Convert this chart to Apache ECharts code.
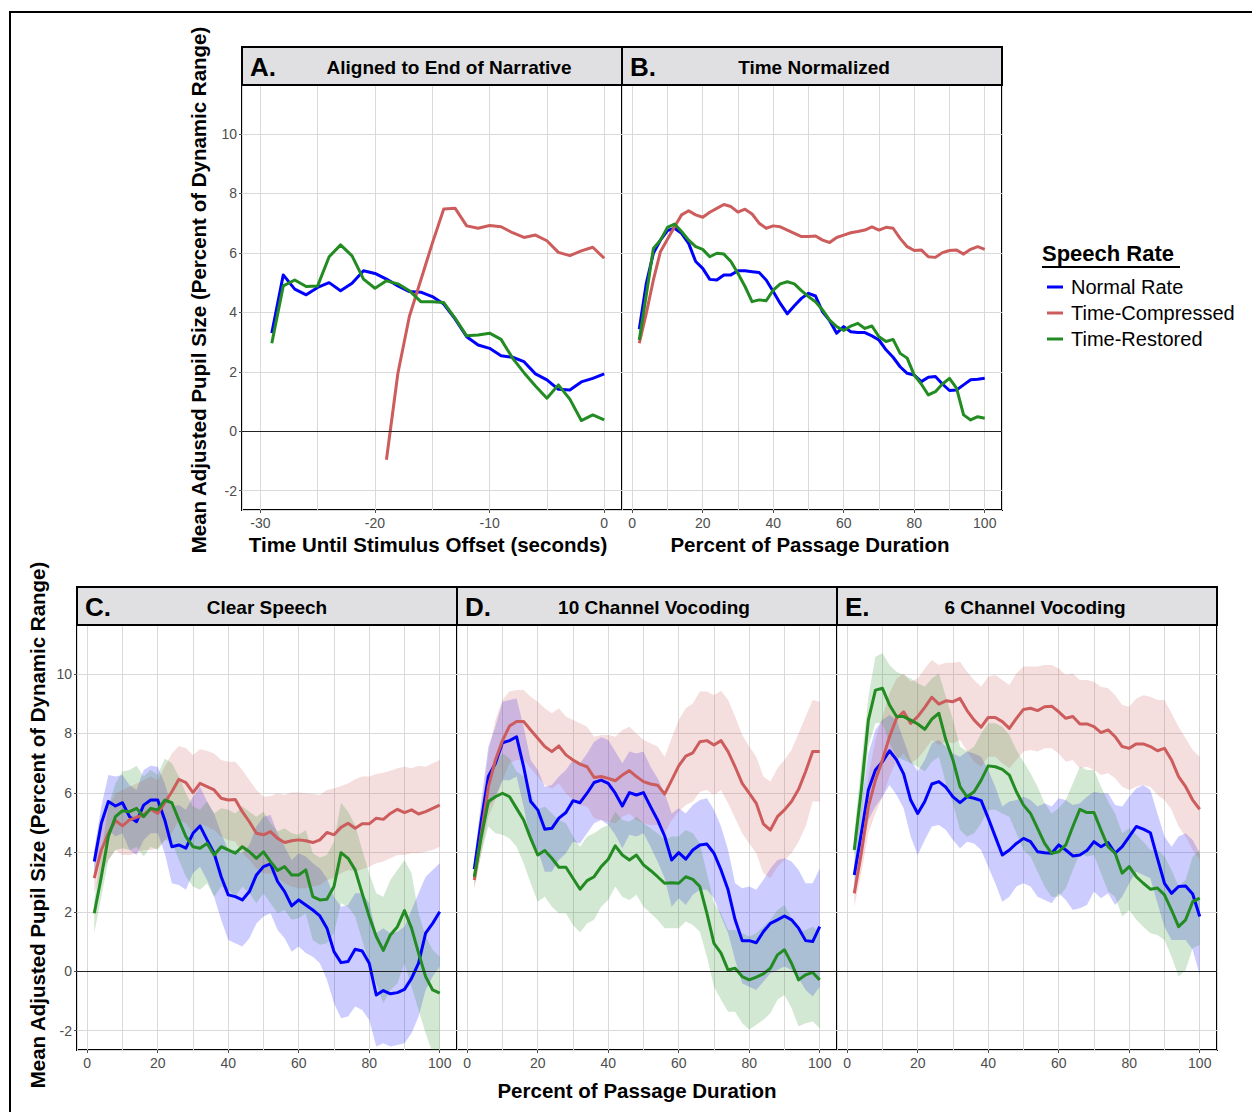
<!DOCTYPE html>
<html>
<head>
<meta charset="utf-8">
<script src="https://cdn.jsdelivr.net/npm/echarts@6/dist/echarts.min.js"></script>
<style>
html,body{margin:0;padding:0;background:#fff;}
#chart{width:1252px;height:1112px;}
</style>
</head>
<body>
<div id="chart"></div>
<script>
// ---------------- DATA ----------------
const seriesNames = ['Normal Rate', 'Time-Compressed', 'Time-Restored'];

const timeX = [-29,-28,-27,-26,-25,-24,-23,-22,-21,-20,-19,-18,-17,-16,-15,-14,-13,-12,-11,-10,-9,-8,-7,-6,-5,-4,-3,-2,-1,0];
const timeXCompressed = [-19,-18,-17,-16,-15,-14,-13,-12,-11,-10,-9,-8,-7,-6,-5,-4,-3,-2,-1,0];
const pctX = [2,4,6,8,10,12,14,16,18,20,22,24,26,28,30,32,34,36,38,40,42,44,46,48,50,52,54,56,58,60,62,64,66,68,70,72,74,76,78,80,82,84,86,88,90,92,94,96,98,100];

const xTicksTime = [-30,-20,-10,0];
const xTicksPct = [0,20,40,60,80,100];
const yTicks = [-2,0,2,4,6,8,10];

// Panel A: aligned to end of narrative
const A_normal = [3.30,5.26,4.78,4.59,4.84,5.00,4.73,4.98,5.40,5.31,5.12,4.89,4.70,4.68,4.53,4.28,3.77,3.18,2.90,2.79,2.54,2.49,2.34,1.93,1.73,1.41,1.39,1.66,1.78,1.93];
const A_compressed = [-0.96,1.95,3.86,5.09,6.32,7.48,7.50,6.91,6.83,6.92,6.88,6.68,6.52,6.60,6.41,6.02,5.91,6.07,6.19,5.82];
const A_restored = [2.96,4.89,5.09,4.87,4.89,5.87,6.27,5.90,5.12,4.81,5.06,4.96,4.73,4.36,4.36,4.33,3.80,3.21,3.24,3.30,3.09,2.46,1.97,1.52,1.11,1.56,1.08,0.36,0.55,0.38];

// Panel B: time normalized
const B_normal = [3.43,4.98,5.99,6.43,6.75,6.83,6.66,6.32,5.71,5.48,5.11,5.09,5.26,5.26,5.40,5.40,5.37,5.34,5.09,4.70,4.30,3.95,4.22,4.47,4.64,4.55,4.02,3.72,3.30,3.52,3.35,3.32,3.32,3.21,3.07,2.74,2.49,2.17,1.95,1.89,1.67,1.82,1.84,1.59,1.37,1.39,1.56,1.73,1.75,1.78];
const B_compressed = [2.96,3.97,5.09,6.04,6.46,6.88,7.28,7.42,7.28,7.20,7.37,7.50,7.63,7.56,7.37,7.47,7.31,7.00,6.83,6.91,6.88,6.77,6.66,6.55,6.55,6.57,6.43,6.35,6.52,6.60,6.68,6.72,6.77,6.88,6.77,6.86,6.83,6.49,6.21,6.08,6.10,5.87,5.85,6.01,6.08,6.10,5.96,6.12,6.21,6.12];
const B_restored = [3.07,4.59,6.15,6.43,6.86,6.97,6.72,6.43,6.21,6.12,5.87,5.99,5.96,5.71,5.31,4.87,4.36,4.42,4.39,4.75,4.96,5.03,4.96,4.73,4.53,4.36,4.08,3.74,3.52,3.39,3.54,3.63,3.46,3.54,3.18,3.02,3.09,2.62,2.46,1.89,1.59,1.22,1.33,1.59,1.78,1.45,0.55,0.38,0.49,0.44];

// Panel C: clear speech (mean, lower, upper)
const C_normal = [3.69,4.98,5.71,5.56,5.67,5.20,5.03,5.59,5.76,5.76,5.09,4.19,4.25,4.14,4.64,4.89,4.42,3.97,3.18,2.57,2.51,2.40,2.68,3.24,3.52,3.61,3.02,2.68,2.20,2.40,2.23,2.06,1.86,1.45,0.66,0.29,0.33,0.74,0.68,0.27,-0.80,-0.65,-0.76,-0.72,-0.61,-0.24,0.27,1.28,1.61,2.00];
const C_normal_lo = [3.18,4.19,4.75,4.53,4.64,4.08,3.91,4.42,4.64,4.64,3.97,2.96,2.90,2.74,3.30,3.52,3.07,2.51,1.73,1.05,0.94,0.83,1.11,1.61,1.84,1.95,1.39,1.11,0.66,0.83,0.61,0.49,0.27,-0.29,-1.08,-1.58,-1.52,-1.19,-1.30,-1.64,-2.53,-2.42,-2.53,-2.48,-2.42,-2.09,-1.52,-0.63,-0.18,0.16];
const C_normal_hi = [4.08,5.54,6.60,6.55,6.60,6.27,6.10,6.77,6.91,6.88,6.32,5.54,5.59,5.43,5.87,6.21,5.71,5.31,4.64,4.08,4.08,3.97,4.25,4.87,5.20,5.26,4.64,4.19,3.74,3.97,3.86,3.63,3.46,3.13,2.51,2.17,2.23,2.62,2.62,2.29,1.28,1.45,1.28,1.33,1.50,2.06,2.62,3.18,3.41,3.63];
const C_compressed = [3.13,4.08,4.64,5.07,4.89,5.09,5.18,5.26,5.45,5.31,5.67,6.04,6.46,6.35,6.01,6.32,6.21,6.10,5.82,5.76,5.78,5.37,5.03,4.64,4.59,4.70,4.47,4.33,4.39,4.42,4.39,4.33,4.42,4.67,4.59,4.84,4.98,4.81,4.96,4.96,5.15,5.11,5.31,5.45,5.34,5.43,5.29,5.37,5.48,5.59];
const C_compressed_lo = [2.62,3.30,3.74,4.08,3.91,3.91,3.97,4.08,4.08,4.14,4.42,4.64,5.09,4.98,4.64,4.98,4.87,4.75,4.53,4.42,4.36,3.97,3.74,3.46,3.30,3.30,3.13,2.96,2.85,2.79,2.79,2.85,2.90,3.07,3.13,3.30,3.41,3.35,3.43,3.52,3.63,3.69,3.80,3.91,3.91,3.97,3.97,4.02,4.08,4.19];
const C_compressed_hi = [3.63,4.87,5.54,5.99,6.10,6.21,6.32,6.43,6.55,6.43,6.88,7.33,7.58,7.50,7.28,7.47,7.42,7.33,7.11,7.05,7.05,6.77,6.43,6.10,5.87,5.90,5.99,5.93,6.01,6.01,5.99,5.96,5.93,6.10,6.15,6.23,6.32,6.46,6.55,6.55,6.64,6.68,6.75,6.83,6.88,6.83,6.91,6.88,7.00,7.11];
const C_restored = [1.95,3.18,4.53,5.20,5.40,5.37,5.48,5.20,5.48,5.43,5.76,5.67,5.09,4.53,4.19,4.14,4.30,3.91,4.19,4.08,3.97,4.19,4.02,3.80,4.02,3.69,3.39,3.52,3.24,3.24,3.41,2.51,2.40,2.42,2.85,3.99,3.80,3.41,2.62,1.84,1.17,0.70,1.22,1.50,2.04,1.45,0.61,-0.18,-0.63,-0.74];
const C_restored_lo = [1.28,2.51,3.74,4.08,4.14,4.08,4.19,3.86,4.19,4.08,4.42,4.36,3.74,3.18,2.85,2.74,2.96,2.51,2.85,2.74,2.51,2.85,2.62,2.29,2.62,2.29,1.95,2.06,1.73,1.78,1.95,1.05,0.89,0.94,1.28,2.29,2.17,1.84,1.05,0.27,-0.40,-1.08,-0.63,-0.40,0.27,-0.52,-1.30,-2.09,-2.76,-2.87];
const C_restored_hi = [2.40,3.97,5.54,6.32,6.72,6.77,6.91,6.55,6.77,6.60,7.16,7.00,6.55,5.99,5.54,5.43,5.71,5.31,5.48,5.43,5.31,5.54,5.37,5.20,5.37,4.98,4.70,4.81,4.64,4.59,4.75,3.97,3.83,3.91,4.36,5.67,5.37,4.92,4.08,3.30,2.62,2.51,3.07,3.41,3.74,3.30,1.95,1.17,0.72,0.49];

// Panel D: 10 channel vocoding
const D_normal = [3.43,5.09,6.55,7.00,7.69,7.76,7.89,6.88,5.71,5.43,4.78,4.81,5.15,5.34,5.74,5.67,5.99,6.35,6.43,6.32,5.99,5.56,6.01,5.93,6.01,5.54,5.09,4.55,3.74,3.99,3.77,4.08,4.25,4.28,3.97,3.41,2.74,1.73,1.03,1.03,0.96,1.33,1.61,1.73,1.86,1.73,1.45,1.03,1.00,1.50];
const D_normal_lo = [3.07,4.42,5.54,5.87,6.43,6.43,6.55,5.54,4.36,4.08,3.35,3.35,3.74,3.97,4.36,4.30,4.64,4.98,5.09,4.92,4.59,4.14,4.59,4.53,4.64,4.19,3.69,3.13,2.17,2.46,2.23,2.57,2.74,2.74,2.46,1.84,1.28,0.38,-0.40,-0.52,-0.63,-0.35,-0.07,0.04,0.16,0.04,-0.24,-0.63,-0.85,-0.52];
const D_normal_hi = [3.74,5.76,7.56,8.23,9.07,9.13,9.18,8.23,7.11,6.77,6.21,6.27,6.55,6.77,7.11,7.00,7.33,7.72,7.87,7.78,7.39,7.00,7.39,7.33,7.39,6.88,6.49,5.99,5.31,5.48,5.31,5.59,5.76,5.82,5.43,4.87,4.08,2.96,2.79,2.85,2.74,3.07,3.46,3.74,3.80,3.69,3.41,2.96,2.96,3.46];
const D_compressed = [3.07,4.64,6.21,7.11,7.76,8.25,8.40,8.40,8.12,7.84,7.56,7.39,7.58,7.28,7.11,6.97,6.88,6.52,6.55,6.49,6.41,6.60,6.75,6.55,6.38,6.30,6.26,5.96,6.43,6.91,7.24,7.35,7.72,7.76,7.61,7.76,7.39,6.88,6.32,5.99,5.65,4.96,4.75,5.20,5.43,5.71,6.12,6.72,7.39,7.39];
const D_compressed_lo = [2.74,3.97,5.20,5.76,6.43,7.00,7.11,7.11,6.83,6.55,6.27,6.15,6.32,5.99,5.76,5.59,5.54,5.15,5.09,5.03,4.98,5.20,5.31,5.09,4.98,4.92,4.92,4.64,5.09,5.37,5.59,5.71,6.04,6.10,5.93,6.10,5.65,5.15,4.64,4.30,3.97,3.30,3.13,3.52,3.74,3.97,4.36,4.87,5.71,5.71];
const D_compressed_hi = [3.30,5.31,7.33,8.45,9.13,9.41,9.46,9.46,9.24,9.07,8.85,8.68,8.85,8.57,8.45,8.34,8.23,7.89,7.95,7.95,7.89,8.12,8.23,8.00,7.78,7.67,7.56,7.22,7.84,8.45,8.85,9.01,9.41,9.41,9.29,9.44,9.13,8.57,7.95,7.56,7.22,6.55,6.38,6.83,7.11,7.44,8.00,8.57,9.13,9.07];
const D_restored = [3.18,4.53,5.71,5.87,5.99,5.87,5.48,5.09,4.47,3.91,4.06,3.80,3.50,3.50,3.13,2.76,3.05,3.18,3.52,3.77,4.22,3.91,3.74,3.91,3.58,3.39,3.18,2.96,2.98,2.96,3.18,3.09,2.85,1.95,0.94,0.61,0.04,0.10,-0.18,-0.29,-0.20,-0.09,0.10,0.55,0.72,0.27,-0.29,-0.12,-0.04,-0.29];
const D_restored_lo = [2.85,3.97,4.87,4.64,4.59,4.47,4.19,3.63,2.96,2.34,2.51,2.17,1.95,1.95,1.56,1.30,1.61,1.73,2.17,2.40,2.85,2.51,2.40,2.57,2.17,1.95,1.73,1.45,1.45,1.45,1.67,1.56,1.33,0.49,-0.52,-0.96,-1.36,-1.36,-1.75,-1.97,-1.80,-1.64,-1.41,-0.96,-0.80,-1.24,-1.86,-1.75,-1.69,-1.92];
const D_restored_hi = [3.52,5.09,6.66,7.00,7.33,7.16,6.72,6.55,5.99,5.43,5.54,5.31,5.09,4.98,4.53,4.19,4.53,4.64,4.81,4.92,5.37,5.09,5.03,5.20,4.98,4.81,4.64,4.42,4.53,4.53,4.75,4.64,4.30,3.30,2.29,1.95,1.39,1.39,1.28,1.17,1.28,1.50,1.73,2.06,2.23,1.78,1.33,1.39,1.50,1.33];

// Panel E: 6 channel vocoding
const E_normal = [3.24,4.64,6.10,6.77,7.05,7.42,7.11,6.64,5.76,5.31,5.71,6.30,6.38,6.19,5.87,5.67,5.87,5.82,5.74,5.15,4.53,3.91,4.08,4.30,4.47,4.36,4.02,3.99,3.97,4.25,4.08,3.88,3.91,4.06,4.36,4.19,4.33,3.97,4.19,4.53,4.87,4.78,4.66,3.80,2.96,2.62,2.85,2.87,2.60,1.84];
const E_normal_lo = [2.85,3.97,5.09,5.54,5.87,6.27,5.93,5.48,4.53,3.91,4.42,4.87,4.92,4.75,4.42,4.14,4.36,4.30,4.08,3.52,2.96,2.34,2.51,2.85,2.96,2.85,2.51,2.40,2.29,2.62,2.40,2.06,2.12,2.23,2.68,2.46,2.62,2.23,2.51,2.96,3.35,3.24,3.13,2.29,1.50,1.05,1.05,1.05,0.72,-0.12];
const E_normal_hi = [3.58,5.54,7.33,8.12,8.45,8.62,8.45,7.78,7.11,6.72,7.11,7.67,7.78,7.56,7.33,7.22,7.39,7.33,7.22,6.77,6.21,5.54,5.71,5.76,5.87,5.76,5.54,5.65,5.54,5.82,5.76,5.59,5.65,5.87,6.04,5.99,5.99,5.59,5.54,5.87,6.15,6.27,6.10,5.31,4.53,4.19,4.53,4.64,4.42,3.97];
const E_compressed = [2.62,3.97,5.54,6.43,7.11,7.89,8.51,8.73,8.34,8.57,8.88,9.22,8.99,9.10,9.07,9.18,8.77,8.45,8.21,8.54,8.54,8.40,8.17,8.51,8.81,8.85,8.77,8.90,8.92,8.73,8.51,8.57,8.32,8.32,8.23,8.03,8.12,7.89,7.56,7.50,7.65,7.65,7.56,7.42,7.50,7.11,6.55,6.21,5.76,5.45];
const E_compressed_lo = [2.17,3.30,4.64,5.31,5.87,6.55,7.11,7.33,7.00,7.16,7.44,7.78,7.61,7.72,7.67,7.78,7.39,7.05,6.88,7.22,7.22,7.00,6.83,7.11,7.39,7.44,7.39,7.50,7.50,7.33,7.05,7.11,6.83,6.88,6.77,6.60,6.66,6.49,6.21,6.10,6.21,6.27,6.21,5.93,5.76,5.43,4.87,4.53,4.08,3.74];
const E_compressed_hi = [2.96,4.64,6.55,7.78,8.57,9.35,9.85,10.02,9.74,9.85,10.19,10.47,10.30,10.38,10.38,10.41,10.08,9.80,9.57,9.91,9.97,9.80,9.63,10.02,10.25,10.25,10.25,10.30,10.30,10.19,9.97,10.02,9.80,9.80,9.74,9.57,9.52,9.29,8.96,8.90,9.18,9.29,9.24,9.13,9.13,8.68,8.23,7.84,7.44,7.22];
const E_restored = [4.08,6.10,8.45,9.46,9.52,8.96,8.57,8.57,8.45,8.32,8.14,8.48,8.68,7.78,7.11,6.21,5.87,6.04,6.43,6.91,6.88,6.79,6.60,6.04,5.59,5.31,4.81,4.30,3.97,4.02,4.25,4.87,5.45,5.34,5.34,4.75,4.19,3.97,3.30,3.52,3.18,2.96,2.76,2.80,2.57,2.06,1.50,1.73,2.34,2.46];
const E_restored_lo = [3.52,5.20,7.56,8.34,8.34,7.67,7.22,7.11,7.00,6.88,6.72,7.05,7.22,6.32,5.65,4.75,4.53,4.64,4.98,5.43,5.43,5.31,5.20,4.64,4.08,3.86,3.35,2.85,2.51,2.51,2.79,3.41,3.97,3.86,3.91,3.30,2.68,2.51,1.84,2.06,1.73,1.50,1.28,1.22,1.05,0.49,-0.18,0.04,0.77,0.89];
const E_restored_hi = [4.64,7.00,9.24,10.58,10.70,10.30,10.08,9.97,9.85,9.69,9.57,9.85,10.02,9.24,8.45,7.56,7.39,7.56,8.00,8.34,8.34,8.23,7.95,7.44,7.05,6.66,6.21,5.65,5.31,5.48,5.76,6.32,6.88,6.77,6.77,6.21,5.71,5.31,4.64,4.81,4.59,4.36,4.08,4.08,3.86,3.41,2.85,3.07,3.86,4.08];

// ---------------- CHART ----------------
const FONT = '"Liberation Sans", Arial, Helvetica, sans-serif';
const LINE_COLORS = ['#0000ff', '#cd5c5c', '#228b22'];
const BAND_COLORS = ['rgba(0,0,255,0.2)', 'rgba(205,92,92,0.2)', 'rgba(34,139,34,0.2)'];
const GRID_COLOR = '#d9d9d9';
const TICK_COLOR = '#4d4d4d';
const Y_MIN = -2.65, Y_MAX = 11.65;

const panels = [
  { letter: 'A.', title: 'Aligned to End of Narrative', titleX: 449, left: 242, top: 85,
    xMin: -31.6, xMax: 1.55, xStep: 10, xTicks: xTicksTime, yLabels: true,
    lines: [[timeX, A_normal], [timeXCompressed, A_compressed], [timeX, A_restored]] },
  { letter: 'B.', title: 'Time Normalized', titleX: 814, left: 622, top: 85,
    xMin: -2.9, xMax: 104.9, xStep: 20, xTicks: xTicksPct, yLabels: false,
    lines: [[pctX, B_normal], [pctX, B_compressed], [pctX, B_restored]] },
  { letter: 'C.', title: 'Clear Speech', titleX: 267, left: 77, top: 625,
    xMin: -2.9, xMax: 104.9, xStep: 20, xTicks: xTicksPct, yLabels: true,
    lines: [[pctX, C_normal], [pctX, C_compressed], [pctX, C_restored]],
    bands: [[C_normal_lo, C_normal_hi], [C_compressed_lo, C_compressed_hi], [C_restored_lo, C_restored_hi]] },
  { letter: 'D.', title: '10 Channel Vocoding', titleX: 654, left: 457, top: 625,
    xMin: -2.9, xMax: 104.9, xStep: 20, xTicks: xTicksPct, yLabels: false,
    lines: [[pctX, D_normal], [pctX, D_compressed], [pctX, D_restored]],
    bands: [[D_normal_lo, D_normal_hi], [D_compressed_lo, D_compressed_hi], [D_restored_lo, D_restored_hi]] },
  { letter: 'E.', title: '6 Channel Vocoding', titleX: 1035, left: 837, top: 625,
    xMin: -2.9, xMax: 104.9, xStep: 20, xTicks: xTicksPct, yLabels: false,
    lines: [[pctX, E_normal], [pctX, E_compressed], [pctX, E_restored]],
    bands: [[E_normal_lo, E_normal_hi], [E_compressed_lo, E_compressed_hi], [E_restored_lo, E_restored_hi]] }
];

const PW = 380, PH = 425, STRIP_H = 38;

const grids = [], xAxes = [], yAxes = [], series = [], graphics = [];

function isTick(list, v) { return list.some(t => Math.abs(t - v) < 1e-6); }

panels.forEach((p, i) => {
  grids.push({ left: p.left, top: p.top, width: PW, height: PH, show: true,
    borderColor: '#000', borderWidth: 2, backgroundColor: 'transparent',
    containLabel: false, outerBoundsMode: 'none' });

  xAxes.push({
    type: 'value', gridIndex: i, min: p.xMin, max: p.xMax, position: 'bottom',
    minInterval: p.xStep, maxInterval: p.xStep, splitNumber: 5,
    axisLine: { show: false, onZero: false },
    axisTick: { show: true, length: 3, lineStyle: { color: TICK_COLOR, width: 1 } },
    axisLabel: { show: true, color: TICK_COLOR, fontSize: 14, fontFamily: FONT, margin: 6,
      showMinLabel: false, showMaxLabel: false,
      formatter: v => isTick(p.xTicks, v) ? String(Math.round(v)) : '' },
    splitLine: { show: true, lineStyle: { color: GRID_COLOR, width: 1 } },
    minorTick: { show: false, splitNumber: 2 },
    minorSplitLine: { show: true, lineStyle: { color: GRID_COLOR, width: 1 } }
  });

  yAxes.push({
    type: 'value', gridIndex: i, min: Y_MIN, max: Y_MAX, position: 'left',
    minInterval: 2, maxInterval: 2, splitNumber: 7,
    axisLine: { show: false, onZero: false },
    axisTick: { show: p.yLabels, length: 3, lineStyle: { color: TICK_COLOR, width: 1 } },
    axisLabel: { show: p.yLabels, color: TICK_COLOR, fontSize: 14, fontFamily: FONT, margin: 5,
      showMinLabel: false, showMaxLabel: false,
      formatter: v => isTick(yTicks, v) ? String(Math.round(v)) : '' },
    splitLine: { show: true, lineStyle: { color: GRID_COLOR, width: 1 } }
  });

  // ribbons
  if (p.bands) {
    p.bands.forEach((b, k) => {
      const lo = b[0], hi = b[1], xs = p.lines[k][0];
      series.push({
        type: 'custom', name: 'band-' + p.letter + k, xAxisIndex: i, yAxisIndex: i,
        z: 1, silent: true, clip: true, animation: false,
        data: xs.map((x, j) => [x, lo[j], hi[j]]),
        encode: { x: 0, y: [1, 2] },
        renderItem: function (params, api) {
          if (params.dataIndex !== 0) return null;
          const pts = [];
          for (let j = 0; j < xs.length; j++) pts.push(api.coord([xs[j], hi[j]]));
          for (let j = xs.length - 1; j >= 0; j--) pts.push(api.coord([xs[j], lo[j]]));
          const cs = params.coordSys;
          return {
            type: 'polygon',
            shape: { points: pts },
            style: { fill: BAND_COLORS[k], stroke: null },
            clipPath: { type: 'rect', shape: { x: cs.x, y: cs.y, width: cs.width, height: cs.height } }
          };
        }
      });
    });
  }

  // lines
  p.lines.forEach((l, k) => {
    const s = {
      type: 'line', name: seriesNames[k], xAxisIndex: i, yAxisIndex: i,
      data: l[0].map((x, j) => [x, l[1][j]]),
      showSymbol: false, symbol: 'none', smooth: false, clip: true, z: 3,
      animation: false, silent: true,
      itemStyle: { color: LINE_COLORS[k] },
      lineStyle: { color: LINE_COLORS[k], width: 3, join: 'round', cap: 'butt' }
    };
    if (k === 0) {
      s.markLine = {
        silent: true, symbol: 'none', animation: false,
        label: { show: false },
        lineStyle: { color: '#222', width: 1, type: 'solid' },
        emphasis: { disabled: true },
        data: [{ yAxis: 0 }]
      };
    }
    series.push(s);
  });

  // strip
  const stripTop = p.top - STRIP_H;
  graphics.push({ type: 'rect', z: 10, silent: true,
    shape: { x: p.left, y: stripTop, width: PW, height: STRIP_H },
    style: { fill: '#e0e0e2', stroke: '#000', lineWidth: 2 } });
  graphics.push({ type: 'text', z: 11, silent: true, x: p.left + 8, y: stripTop + 20,
    style: { text: p.letter, font: 'bold 26px ' + FONT, fill: '#000', textAlign: 'left', textVerticalAlign: 'middle', verticalAlign: 'middle' } });
  graphics.push({ type: 'text', z: 11, silent: true, x: p.titleX, y: stripTop + 20,
    style: { text: p.title, font: 'bold 19px ' + FONT, fill: '#000', textAlign: 'center', textVerticalAlign: 'middle', verticalAlign: 'middle' } });
});

// axis titles
const axisTitleFont = 'bold 20.5px ' + FONT;
graphics.push({ type: 'text', silent: true, x: 198, y: 290, rotation: Math.PI / 2,
  style: { text: 'Mean Adjusted Pupil Size (Percent of Dynamic Range)', font: axisTitleFont, fill: '#000', textAlign: 'center', textVerticalAlign: 'middle', verticalAlign: 'middle' } });
graphics.push({ type: 'text', silent: true, x: 37, y: 825, rotation: Math.PI / 2,
  style: { text: 'Mean Adjusted Pupil Size (Percent of Dynamic Range)', font: axisTitleFont, fill: '#000', textAlign: 'center', textVerticalAlign: 'middle', verticalAlign: 'middle' } });
graphics.push({ type: 'text', silent: true, x: 428, y: 544,
  style: { text: 'Time Until Stimulus Offset (seconds)', font: axisTitleFont, fill: '#000', textAlign: 'center', textVerticalAlign: 'middle', verticalAlign: 'middle' } });
graphics.push({ type: 'text', silent: true, x: 810, y: 544,
  style: { text: 'Percent of Passage Duration', font: axisTitleFont, fill: '#000', textAlign: 'center', textVerticalAlign: 'middle', verticalAlign: 'middle' } });
graphics.push({ type: 'text', silent: true, x: 637, y: 1090,
  style: { text: 'Percent of Passage Duration', font: axisTitleFont, fill: '#000', textAlign: 'center', textVerticalAlign: 'middle', verticalAlign: 'middle' } });

// legend title
graphics.push({ type: 'text', silent: true, x: 1042, y: 253,
  style: { text: 'Speech Rate', font: 'bold 22px ' + FONT, fill: '#000', textAlign: 'left', textVerticalAlign: 'middle', verticalAlign: 'middle' } });
graphics.push({ type: 'line', silent: true,
  shape: { x1: 1042, y1: 267, x2: 1180, y2: 267 },
  style: { stroke: '#000', lineWidth: 2 } });

// outer frame
graphics.push({ type: 'rect', silent: true, z: 0,
  shape: { x: 10, y: 12, width: 1400, height: 1300 },
  style: { fill: 'none', stroke: '#000', lineWidth: 2 } });

const chart = echarts.init(document.getElementById('chart'), null, { renderer: 'svg', width: 1252, height: 1112 });
chart.setOption({
  animation: false,
  backgroundColor: '#fff',
  textStyle: { fontFamily: FONT },
  grid: grids,
  xAxis: xAxes,
  yAxis: yAxes,
  legend: {
    data: seriesNames, orient: 'vertical', left: 1042, top: 272,
    icon: 'rect', itemWidth: 16, itemHeight: 3, itemGap: 6,
    selectedMode: false,
    textStyle: { fontSize: 20, fontFamily: FONT, color: '#000', padding: [0, 0, 0, 3], lineHeight: 20 }
  },
  tooltip: { show: false },
  graphic: { elements: graphics },
  series: series
});
</script>
</body>
</html>
